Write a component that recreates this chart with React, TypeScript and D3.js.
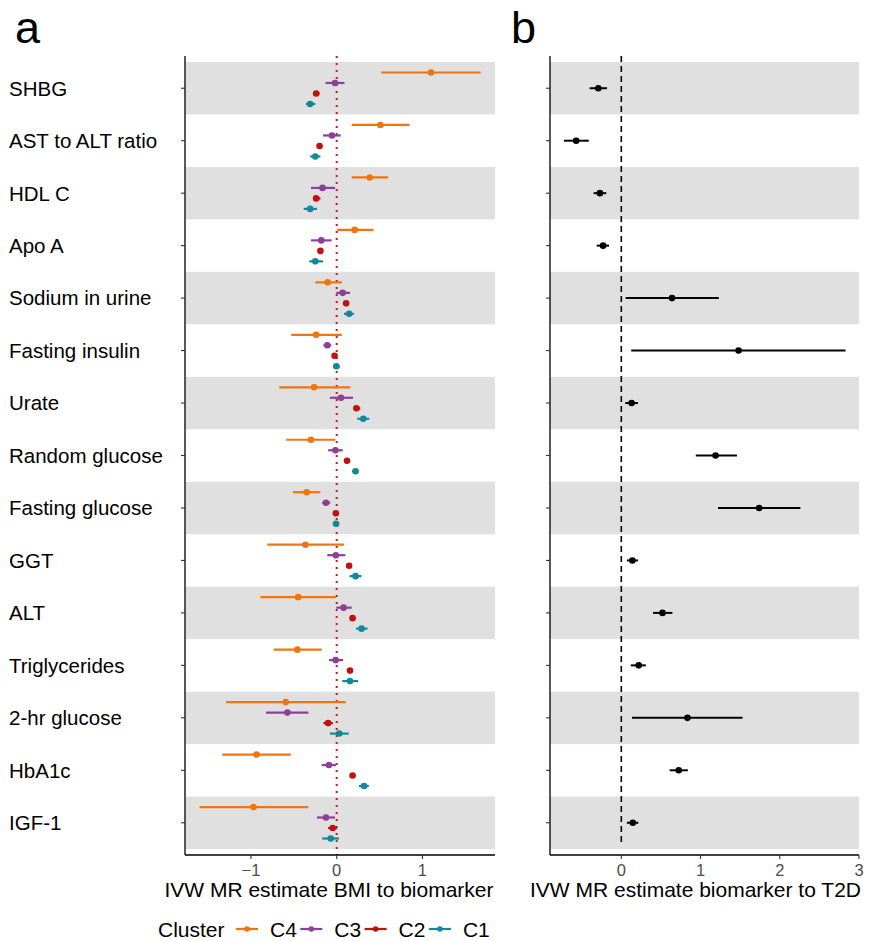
import * as d3 from 'd3';

const categories = [
  'SHBG',
  'AST to ALT ratio',
  'HDL C',
  'Apo A',
  'Sodium in urine',
  'Fasting insulin',
  'Urate',
  'Random glucose',
  'Fasting glucose',
  'GGT',
  'ALT',
  'Triglycerides',
  '2-hr glucose',
  'HbA1c',
  'IGF-1'
];

const clusters = ['C4', 'C3', 'C2', 'C1'];
const clusterColors = ['#f0750f', '#8c3f98', '#c20f0f', '#11899b'];

// panel a: BMI -> biomarker, per cluster
const c4Est = [1.1, 0.51, 0.385, 0.21, -0.105, -0.24, -0.265, -0.3, -0.35, -0.365, -0.45, -0.46, -0.595, -0.935, -0.97];
const c4Lo = [0.52, 0.175, 0.175, 0.005, -0.25, -0.53, -0.67, -0.59, -0.51, -0.81, -0.89, -0.735, -1.29, -1.335, -1.6];
const c4Hi = [1.68, 0.85, 0.6, 0.43, 0.06, 0.06, 0.16, -0.015, -0.19, 0.085, -0.01, -0.175, 0.105, -0.535, -0.33];

const c3Est = [-0.02, -0.055, -0.165, -0.18, 0.07, -0.11, 0.05, -0.015, -0.125, -0.01, 0.08, -0.012, -0.575, -0.09, -0.125];
const c3Lo = [-0.13, -0.16, -0.3, -0.3, -0.005, -0.155, -0.08, -0.1, -0.17, -0.11, -0.005, -0.09, -0.825, -0.175, -0.23];
const c3Hi = [0.09, 0.047, -0.02, -0.06, 0.155, -0.065, 0.19, 0.07, -0.075, 0.1, 0.175, 0.075, -0.33, -0.008, -0.02];

const c2Est = [-0.24, -0.2, -0.24, -0.19, 0.11, -0.025, 0.23, 0.12, -0.01, 0.145, 0.185, 0.155, -0.1, 0.185, -0.047];
const c2Lo = [-0.27, -0.23, -0.27, -0.22, 0.08, -0.055, 0.195, 0.095, -0.04, 0.115, 0.155, 0.125, -0.155, 0.155, -0.1];
const c2Hi = [-0.2, -0.17, -0.19, -0.16, 0.14, 0.005, 0.275, 0.145, 0.02, 0.175, 0.22, 0.185, -0.045, 0.215, 0.004];

const c1Est = [-0.31, -0.25, -0.31, -0.25, 0.145, -0.005, 0.31, 0.22, -0.008, 0.22, 0.29, 0.155, 0.03, 0.32, -0.07];
const c1Lo = [-0.36, -0.31, -0.385, -0.32, 0.085, -0.04, 0.24, 0.18, -0.04, 0.15, 0.225, 0.065, -0.08, 0.26, -0.17];
const c1Hi = [-0.25, -0.19, -0.23, -0.16, 0.2, 0.035, 0.38, 0.255, 0.03, 0.29, 0.36, 0.25, 0.14, 0.375, 0.027];

// panel b: biomarker -> T2D
const t2dEst = [-0.29, -0.57, -0.27, -0.23, 0.64, 1.48, 0.13, 1.19, 1.74, 0.14, 0.52, 0.22, 0.835, 0.725, 0.145];
const t2dLo = [-0.4, -0.725, -0.35, -0.31, 0.055, 0.125, 0.05, 0.94, 1.22, 0.07, 0.4, 0.12, 0.135, 0.61, 0.07];
const t2dHi = [-0.18, -0.41, -0.19, -0.155, 1.23, 2.83, 0.21, 1.46, 2.26, 0.21, 0.645, 0.31, 1.53, 0.84, 0.215];

const ticksA = [-1, 0, 1];
const ticksB = [0, 1, 2, 3];

const W = 872;
const H = 941;
const plotTop = 56;
const plotBottom = 855;
const font = '"Liberation Sans", Arial, Helvetica, sans-serif';

const clusterSeries = [
  { est: c4Est, lo: c4Lo, hi: c4Hi },
  { est: c3Est, lo: c3Lo, hi: c3Hi },
  { est: c2Est, lo: c2Lo, hi: c2Hi },
  { est: c1Est, lo: c1Lo, hi: c1Hi }
];

export default function App() {
  const yScale = d3.scaleBand<string>().domain(categories).range([62, 849]);
  const bw = yScale.bandwidth();
  const dodge = d3.scaleBand<string>().domain(clusters).range([-0.4 * bw, 0.4 * bw]);
  const colorScale = d3.scaleOrdinal<string, string>().domain(clusters).range(clusterColors);

  const xA = d3.scaleLinear().domain([-1.77, 1.847]).range([185, 495]);
  const xB = d3.scaleLinear().domain([-0.9, 3.0]).range([550, 859]);

  const rowY = (c: string) => yScale(c)! + bw / 2;

  const bands = (x0: number, x1: number) =>
    categories.map((c, i) =>
      i % 2 === 0 ? (
        <rect key={c} x={x0} y={yScale(c)} width={x1 - x0} height={bw} fill="#e0e0e0" />
      ) : null
    );

  const leftAxis = (x: number) => (
    <g>
      <line x1={x} x2={x} y1={plotTop} y2={plotBottom} stroke="#000" strokeWidth={1.3} />
      {categories.map((c) => (
        <line key={c} x1={x - 4} x2={x} y1={rowY(c)} y2={rowY(c)} stroke="#333" strokeWidth={1.1} />
      ))}
    </g>
  );

  const bottomAxis = (scale: d3.ScaleLinear<number, number>, ticks: number[], x0: number, x1: number) => (
    <g>
      <line x1={x0} x2={x1} y1={plotBottom} y2={plotBottom} stroke="#000" strokeWidth={1.3} />
      {ticks.map((t) => (
        <g key={t}>
          <line x1={scale(t)} x2={scale(t)} y1={plotBottom} y2={plotBottom + 4} stroke="#333" strokeWidth={1.1} />
          <text x={scale(t)} y={plotBottom + 21} textAnchor="middle" fontSize={16.5} fill="#4d4d4d">
            {t < 0 ? `\u2212${Math.abs(t)}` : t}
          </text>
        </g>
      ))}
    </g>
  );

  return (
    <svg
      width={W}
      height={H}
      style={{ position: 'absolute', left: 0, top: 0, background: '#fff' }}
      fontFamily={font}
    >
      <rect width={W} height={H} fill="#fff" />

      {/* panel labels */}
      <text x={15} y={43} fontSize={45}>a</text>
      <text x={511} y={43} fontSize={45}>b</text>

      {/* category labels */}
      {categories.map((c) => (
        <text key={c} x={9} y={rowY(c)} dy="0.36em" fontSize={20.5} fill="#000">
          {c}
        </text>
      ))}

      {/* panel a */}
      {bands(185, 495)}
      <line
        x1={xA(0)}
        x2={xA(0)}
        y1={plotTop}
        y2={plotBottom}
        stroke="#cc1a1a"
        strokeWidth={2}
        strokeDasharray="2,5"
      />
      {clusterSeries.map((s, k) => {
        const cl = clusters[k];
        const col = colorScale(cl);
        return (
          <g key={cl}>
            {categories.map((c, i) => {
              const y = rowY(c) + dodge(cl)! + dodge.bandwidth() / 2;
              return (
                <g key={c}>
                  <line x1={xA(s.lo[i])} x2={xA(s.hi[i])} y1={y} y2={y} stroke={col} strokeWidth={2.2} />
                  <circle cx={xA(s.est[i])} cy={y} r={3.3} fill={col} />
                </g>
              );
            })}
          </g>
        );
      })}
      {leftAxis(185)}
      {bottomAxis(xA, ticksA, 185, 495)}
      <text x={(185 + 495) / 2 - 11} y={897} textAnchor="middle" fontSize={21}>
        IVW MR estimate BMI to biomarker
      </text>

      {/* panel b */}
      {bands(550, 859)}
      <line
        x1={xB(0)}
        x2={xB(0)}
        y1={plotTop}
        y2={plotBottom - 12}
        stroke="#000"
        strokeWidth={1.6}
        strokeDasharray="6,4"
      />
      {categories.map((c, i) => {
        const y = rowY(c);
        return (
          <g key={c}>
            <line x1={xB(t2dLo[i])} x2={xB(t2dHi[i])} y1={y} y2={y} stroke="#000" strokeWidth={2} />
            <circle cx={xB(t2dEst[i])} cy={y} r={3.3} fill="#000" />
          </g>
        );
      })}
      {leftAxis(550)}
      {bottomAxis(xB, ticksB, 550, 859)}
      <text x={(550 + 859) / 2 - 9} y={897} textAnchor="middle" fontSize={21}>
        IVW MR estimate biomarker to T2D
      </text>

      {/* legend */}
      <text x={158} y={937} fontSize={21}>Cluster</text>
      {clusters.map((cl, k) => {
        const kx = 236 + k * 64.3;
        const col = colorScale(cl);
        return (
          <g key={cl}>
            <line x1={kx} x2={kx + 22} y1={929} y2={929} stroke={col} strokeWidth={2.2} />
            <circle cx={kx + 11} cy={929} r={2.8} fill={col} />
            <text x={kx + 34} y={937} fontSize={21}>{cl}</text>
          </g>
        );
      })}
    </svg>
  );
}
